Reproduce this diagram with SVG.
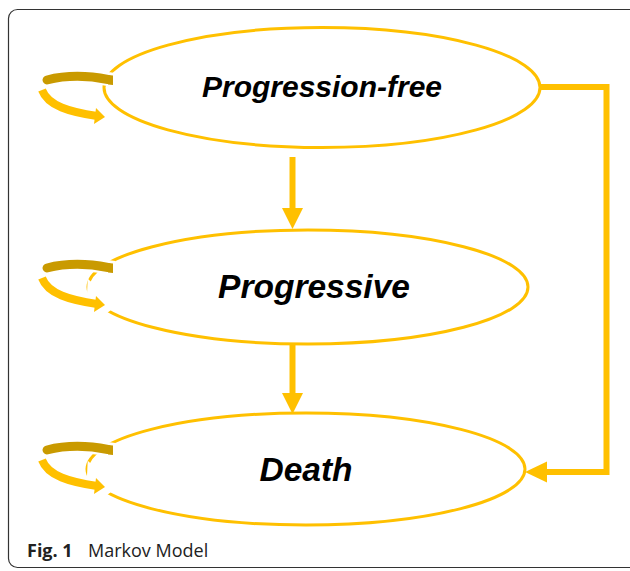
<svg xmlns="http://www.w3.org/2000/svg" width="630" height="571" viewBox="0 0 630 571">
<defs>
<style>
.st{fill:none;stroke:#FFC000;stroke-width:3}
.lbl{font-family:"Liberation Sans",Arial,sans-serif;font-weight:bold;font-style:italic;fill:#000;text-anchor:middle}
.conn{fill:none;stroke:#FFC000;stroke-width:6}
.head{fill:#FFC000}
.halo{fill:none;stroke:#fff;stroke-width:14}
.back{fill:none;stroke:#C99A00;stroke-width:9;stroke-linecap:round}
.front{fill:none;stroke:#FFC000;stroke-width:8}
</style>
<g id="selfloop">
<path class="halo" d="M47,79 Q75,73 114,80" stroke-linecap="butt"/>
<path class="back" d="M47,80 Q75,73 108,79.5"/>
<path d="M108,75 L113,75.5 L113,85 L108,84.5 Z" fill="#C99A00"/>
<path class="halo" d="M42,92 C48,106 70,113 97,116"/>
<path class="halo" d="M94,106 L106,117 L93,127 Z" stroke-width="6" fill="#fff"/>
<path class="front" d="M42,90 C48,106 70,112 97,116"/>
<path class="head" d="M96,108 L105,117 L94,124 Z"/>
</g>
</defs>
<rect x="8.5" y="9.5" width="640" height="558" rx="9" fill="none" stroke="#333" stroke-width="1.2"/>
<g id="node-progression-free">
<ellipse class="st" cx="322" cy="87.5" rx="218" ry="60"/>
<text class="lbl" x="322" y="97" font-size="30">Progression-free</text>
</g>
<g id="node-progressive">
<ellipse class="st" cx="308" cy="287" rx="220" ry="57"/>
<text class="lbl" x="314" y="298" font-size="33.5">Progressive</text>
</g>
<g id="node-death">
<ellipse class="st" cx="306" cy="469" rx="219" ry="56"/>
<text class="lbl" x="306" y="481" font-size="33.5">Death</text>
</g>
<g id="connectors">
<use href="#selfloop"/>
<use href="#selfloop" transform="translate(0,188)"/>
<use href="#selfloop" transform="translate(0,370)"/>
<line class="conn" x1="292.5" y1="157" x2="292.5" y2="210"/>
<path class="head" d="M282,208 L303,208 L292.5,229 Z"/>
<line class="conn" x1="292.5" y1="344" x2="292.5" y2="395"/>
<path class="head" d="M282,393 L303,393 L292.5,414 Z"/>
<path class="conn" d="M540,87 L606.5,87 L606.5,472 L545,472"/>
<path class="head" d="M547,461.5 L547,482.5 L525,472 Z"/>
</g>
<g id="caption" font-family="'Open Sans','Noto Sans',sans-serif" font-size="18" fill="#222">
<text x="27" y="557" font-weight="bold">Fig. 1</text>
<text x="88" y="557">Markov Model</text>
</g>
</svg>
